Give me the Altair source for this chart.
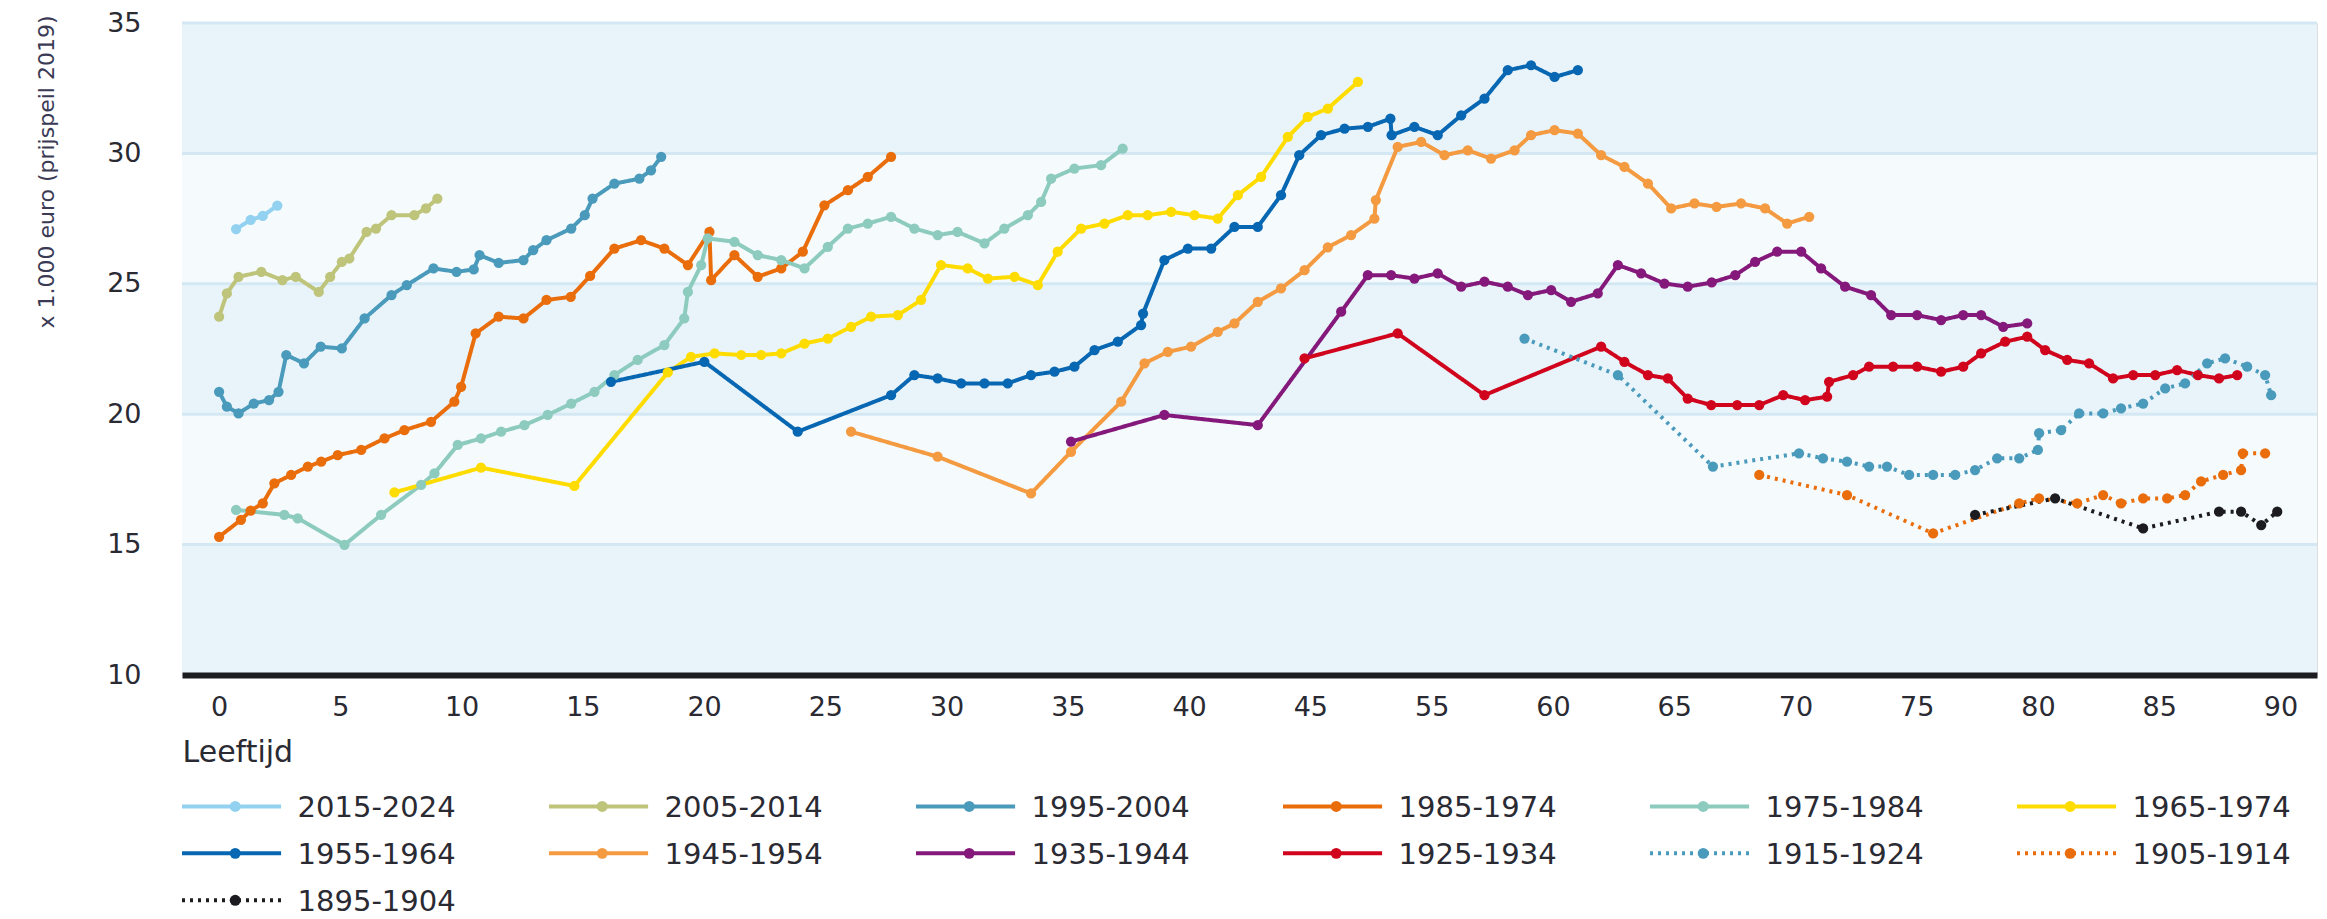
import altair as alt
import pandas as pd

# ---------------- data (x = position on the age axis, y = x 1.000 euro) ----------------
series_names = ["2015-2024", "2005-2014", "1995-2004", "1985-1974", "1975-1984", "1965-1974",
                "1955-1964", "1945-1954", "1935-1944", "1925-1934", "1915-1924", "1905-1914",
                "1895-1904"]
series_colors = ["#92d2f0", "#bec47a", "#4a9abb", "#ea6d0c", "#8ccbbe", "#ffdc00",
                 "#0767b2", "#f49a40", "#84197b", "#d0041c", "#4a9abb", "#ea6d0c", "#1c1c20"]
series_dotted = [False, False, False, False, False, False, False, False, False, False, True, True, True]

x_2015 = [0.7, 1.3, 1.8, 2.4]
y_2015 = [27.1, 27.45, 27.6, 28.0]

x_2005 = [0.0, 0.32, 0.8, 1.74, 2.61, 3.16, 4.11, 4.58, 5.06, 5.37, 6.08, 6.47, 7.11, 8.05, 8.53, 9.0]
y_2005 = [23.74, 24.63, 25.27, 25.46, 25.14, 25.27, 24.69, 25.27, 25.84, 25.97, 26.99, 27.12, 27.63, 27.63, 27.89, 28.27]

x_1995 = [0.0, 0.32, 0.8, 1.43, 2.06, 2.45, 2.77, 3.5, 4.19, 5.06, 6.0, 7.11, 7.74, 8.84, 9.79, 10.5,
          10.74, 11.53, 12.55, 12.95, 13.5, 14.52, 15.08, 15.4, 16.3, 17.33, 17.81, 18.23]
y_1995 = [20.86, 20.29, 20.03, 20.41, 20.54, 20.86, 22.27, 21.95, 22.59, 22.52, 23.67, 24.57, 24.95, 25.59, 25.46, 25.55,
          26.1, 25.8, 25.91, 26.29, 26.67, 27.12, 27.63, 28.27, 28.84, 29.03, 29.35, 29.87]

x_1985 = [0.0, 0.9, 1.3, 1.8, 2.28, 2.97, 3.66, 4.21, 4.89, 5.86, 6.82, 7.64, 8.74, 9.7, 9.98, 10.58, 11.53, 12.55,
          13.5, 14.5, 15.3, 16.3, 17.4, 18.36, 19.33, 20.22, 20.29, 21.25, 22.21, 23.18, 24.07, 24.96, 25.93, 26.75, 27.71]
y_1985 = [15.3, 15.95, 16.3, 16.58, 17.35, 17.67, 17.99, 18.18, 18.43, 18.63, 19.07, 19.39, 19.71, 20.48, 21.05, 23.1, 23.74, 23.67,
          24.38, 24.5, 25.3, 26.35, 26.67, 26.35, 25.72, 26.99, 25.14, 26.1, 25.27, 25.59, 26.23, 28.01, 28.59, 29.1, 29.87]

x_1975 = [0.7, 2.69, 3.24, 5.17, 6.68, 8.33, 8.88, 9.84, 10.8, 11.63, 12.59, 13.55, 14.52, 15.48, 16.3, 17.26, 18.36,
          19.18, 19.33, 19.88, 20.15, 21.25, 22.21, 23.18, 24.14, 25.1, 25.93, 26.75, 27.71, 28.67, 29.63, 30.45,
          31.56, 32.38, 33.35, 33.9, 34.31, 35.27, 36.37, 37.26]
y_1975 = [16.33, 16.14, 16.01, 14.99, 16.14, 17.29, 17.73, 18.82, 19.07, 19.33, 19.58, 19.97, 20.41, 20.86, 21.5, 22.08, 22.65,
          23.67, 24.69, 25.72, 26.74, 26.61, 26.1, 25.91, 25.59, 26.42, 27.12, 27.31, 27.57, 27.12, 26.87, 26.99,
          26.55, 27.12, 27.63, 28.14, 29.03, 29.42, 29.55, 30.18]

x_1965 = [7.23, 10.8, 14.65, 18.5, 19.46, 20.43, 21.53, 22.35, 23.18, 24.14, 25.1, 26.06, 26.89, 27.99, 28.95, 29.77,
          30.87, 31.7, 32.8, 33.76, 34.58, 35.55, 36.51, 37.47, 38.29, 39.26, 40.22, 41.18, 42.01, 42.97, 44.07, 44.89,
          45.72, 46.96]
y_1965 = [17.0, 17.95, 17.25, 21.6, 22.2, 22.33, 22.27, 22.27, 22.33, 22.71, 22.9, 23.35, 23.74, 23.8, 24.38, 25.72,
          25.59, 25.2, 25.27, 24.95, 26.23, 27.12, 27.31, 27.63, 27.63, 27.76, 27.63, 27.5, 28.4, 29.1, 30.63, 31.4,
          31.72, 32.74]

x_1955 = [16.16, 20.01, 23.86, 27.71, 28.67, 29.63, 30.6, 31.56, 32.52, 33.48, 34.45, 35.27, 36.1, 37.06, 38.02, 38.1,
          38.98, 39.95, 40.91, 41.87, 42.83, 43.79, 44.54, 45.44, 46.41, 47.37, 48.3, 48.35, 49.29, 50.25, 51.22, 52.18,
          53.14, 54.1, 55.07, 56.03]
y_1955 = [21.24, 22.01, 19.33, 20.73, 21.5, 21.37, 21.18, 21.18, 21.18, 21.5, 21.63, 21.82, 22.46, 22.78, 23.42, 23.86,
          25.91, 26.35, 26.35, 27.18, 27.18, 28.4, 29.93, 30.7, 30.95, 31.02, 31.33, 30.7, 31.02, 30.7, 31.46, 32.1,
          33.19, 33.38, 32.93, 33.19]

x_1945 = [26.06, 29.63, 33.48, 35.13, 37.2, 38.16, 39.12, 40.08, 41.18, 41.87, 42.83, 43.79, 44.76, 45.72, 46.68,
          47.64, 47.7, 48.6, 49.57, 50.53, 51.49, 52.45, 53.42, 54.1, 55.07, 56.03, 56.99, 57.95, 58.92, 59.88, 60.84,
          61.75, 62.76, 63.75, 64.66, 65.57]
y_1945 = [19.33, 18.37, 16.96, 18.56, 20.48, 21.95, 22.39, 22.59, 23.16, 23.48, 24.31, 24.82, 25.52, 26.4, 26.87,
          27.5, 28.21, 30.25, 30.44, 29.93, 30.12, 29.8, 30.12, 30.7, 30.89, 30.76, 29.93, 29.48, 28.84, 27.89, 28.08,
          27.95, 28.08, 27.89, 27.31, 27.57]

x_1935 = [35.13, 38.98, 42.83, 46.27, 47.37, 48.33, 49.29, 50.25, 51.22, 52.18, 53.14, 53.97, 54.93, 55.75, 56.85,
          57.68, 58.64, 59.6, 60.56, 61.55, 62.52, 63.34, 64.25, 65.24, 66.06, 67.05, 68.12, 68.95, 70.02, 71.01, 71.92,
          72.66, 73.57, 74.56]
y_1935 = [18.95, 19.97, 19.58, 23.93, 25.33, 25.33, 25.2, 25.4, 24.89, 25.08, 24.89, 24.57, 24.76, 24.31, 24.63,
          25.72, 25.4, 25.01, 24.89, 25.05, 25.33, 25.84, 26.23, 26.23, 25.59, 24.89, 24.57, 23.8, 23.8, 23.61, 23.8,
          23.8, 23.35, 23.48]

x_1925 = [44.76, 48.6, 52.18, 56.99, 57.95, 58.92, 59.74, 60.56, 61.53, 62.6, 63.51, 64.5, 65.4, 66.31, 66.39, 67.38,
          68.04, 69.03, 70.02, 71.01, 71.92, 72.66, 73.65, 74.56, 75.3, 76.21, 77.11, 78.1, 78.93, 79.84, 80.74, 81.6,
          82.47, 83.22]
y_1925 = [22.14, 23.1, 20.73, 22.59, 22.01, 21.5, 21.37, 20.6, 20.35, 20.35, 20.35, 20.73, 20.54, 20.67, 21.24, 21.5,
          21.82, 21.82, 21.82, 21.63, 21.82, 22.33, 22.78, 22.97, 22.46, 22.08, 21.95, 21.37, 21.5, 21.5, 21.69, 21.5,
          21.37, 21.5]

x_1915 = [53.83, 57.68, 61.6, 65.15, 66.14, 67.13, 68.04, 68.78, 69.69, 70.68, 71.59, 72.41, 73.32, 74.23, 75.0,
          75.05, 75.96, 76.7, 77.69, 78.43, 79.34, 80.25, 81.07, 81.98, 82.72, 83.63, 84.37, 84.62]
y_1915 = [22.9, 21.5, 17.99, 18.5, 18.31, 18.18, 17.99, 17.99, 17.67, 17.67, 17.67, 17.86, 18.31, 18.31, 18.63,
          19.27, 19.39, 20.03, 20.03, 20.22, 20.41, 20.99, 21.18, 21.95, 22.14, 21.82, 21.5, 20.73]

x_1905 = [63.51, 67.13, 70.68, 74.23, 75.05, 76.62, 77.69, 78.43, 79.34, 80.33, 81.07, 81.73, 82.64, 83.38, 83.45, 84.37]
y_1905 = [17.67, 16.9, 15.43, 16.58, 16.77, 16.58, 16.9, 16.58, 16.77, 16.77, 16.9, 17.42, 17.67, 17.86, 18.5, 18.5]

x_1895 = [72.41, 75.71, 79.34, 82.47, 83.38, 84.21, 84.87]
y_1895 = [16.14, 16.77, 15.62, 16.26, 16.26, 15.75, 16.26]

series_x = [x_2015, x_2005, x_1995, x_1985, x_1975, x_1965, x_1955, x_1945, x_1935, x_1925, x_1915, x_1905, x_1895]
series_y = [y_2015, y_2005, y_1995, y_1985, y_1975, y_1965, y_1955, y_1945, y_1935, y_1925, y_1915, y_1905, y_1895]

# axis ticks: the source axis jumps from 45 to 55
tick_pos = [0, 5, 10, 15, 20, 25, 30, 35, 40, 45, 50, 55, 60, 65, 70, 75, 80, 85]
tick_labels = ["0", "5", "10", "15", "20", "25", "30", "35", "40", "45", "55", "60", "65", "70", "75", "80", "85", "90"]
y_ticks = [10, 15, 20, 25, 30, 35]
grid_values = [15, 20, 25, 30, 35]
band_lo = [10, 15, 20, 25, 30]
band_hi = [15, 20, 25, 30, 35]
band_fill = ["#e9f4fa", "#f5fafd", "#e9f4fa", "#f5fafd", "#e9f4fa"]

# ---------------- tables ----------------
rows = []
for i, (name, xs, ys) in enumerate(zip(series_names, series_x, series_y)):
    for j, (xv, yv) in enumerate(zip(xs, ys)):
        rows.append({"serie": name, "sidx": i, "k": j, "leeftijd": xv, "waarde": yv,
                     "dotted": "ja" if series_dotted[i] else "nee"})
df = pd.DataFrame(rows)

bands = pd.DataFrame({"lo": band_lo, "hi": band_hi, "fill": band_fill})
grid = pd.DataFrame({"g": grid_values})

legend_df = pd.DataFrame({
    "serie": series_names,
    "col": [i % 6 for i in range(len(series_names))],
    "row": [i // 6 for i in range(len(series_names))],
    "kleur": series_colors,
    "dotted": ["ja" if d else "nee" for d in series_dotted],
})

FONT = "DejaVu Sans"
TXT = "#2a2a33"
W = 2135
H = 652
XDOM = [-1.53, 86.51]

label_expr = "[" + ",".join("'" + t + "'" for t in tick_labels) + "][round(datum.value/5)]"

xscale = alt.Scale(domain=XDOM, nice=False, zero=False)
yscale = alt.Scale(domain=[10, 35], nice=False, zero=False)

color_scale = alt.Scale(domain=series_names, range=series_colors)
dash_scale = alt.Scale(domain=["nee", "ja"], range=[[1, 0], [3, 5]])

bg = alt.Chart(bands).mark_rect().encode(
    x=alt.value(0), x2=alt.value({"expr": "width"}),
    y=alt.Y("lo:Q", scale=yscale, axis=alt.Axis(
        values=y_ticks, title="x 1.000 euro (prijspeil 2019)", domain=False, ticks=False, grid=False,
        labelFont=FONT, labelFontSize=27, labelColor=TXT, labelPadding=41,
        titleFont=FONT, titleFontSize=22, titleFontWeight="normal", titleColor="#3a3a55",
        titleAnchor="end", titleAlign="right", titleAngle=270, titleBaseline="middle",
        titleX=-136, titleY=-8)),
    y2="hi:Q",
    color=alt.Color("fill:N", scale=None),
)

gridlines = alt.Chart(grid).mark_rule(color="#d3e8f3", strokeWidth=3).encode(
    y=alt.Y("g:Q", scale=yscale)
)

lines = alt.Chart(df).mark_line(strokeWidth=4).encode(
    x=alt.X("leeftijd:Q", scale=xscale, axis=alt.Axis(
        values=tick_pos, labelExpr=label_expr, title="Leeftijd", grid=False, ticks=False,
        domainColor="#1c1b1f", domainWidth=6, zindex=1,
        labelFont=FONT, labelFontSize=27, labelColor=TXT, labelPadding=19,
        titleFont=FONT, titleFontSize=30, titleFontWeight="normal", titleColor=TXT,
        titleAnchor="start", titleAlign="left", titleBaseline="top", titleX=0, titleY=62)),
    y=alt.Y("waarde:Q", scale=yscale),
    color=alt.Color("serie:N", scale=color_scale, legend=None),
    strokeDash=alt.StrokeDash("dotted:N", scale=dash_scale, legend=None),
    detail="sidx:N",
    order="k:Q",
)

points = alt.Chart(df).mark_point(filled=True, opacity=1, size=105, shape="circle").encode(
    x=alt.X("leeftijd:Q", scale=xscale),
    y=alt.Y("waarde:Q", scale=yscale),
    color=alt.Color("serie:N", scale=color_scale, legend=None),
)

main = alt.layer(bg, gridlines, lines, points).properties(width=W, height=H)

# ---------------- legend drawn as its own small chart ----------------
COLW = 367.0
lx = alt.Scale(domain=[0, W / COLW], nice=False, zero=False)
ly = alt.Scale(domain=[-0.5, 2.25], nice=False, zero=False, reverse=True)

leg_base = alt.Chart(legend_df).transform_calculate(
    x0="datum.col", x1="datum.col + 0.27", xm="datum.col + 0.145", xt="datum.col + 0.315"
)
leg_rule = leg_base.mark_rule(strokeWidth=4).encode(
    x=alt.X("x0:Q", scale=lx, axis=None), x2="x1:Q",
    y=alt.Y("row:Q", scale=ly, axis=None),
    color=alt.Color("kleur:N", scale=None),
    strokeDash=alt.StrokeDash("dotted:N", scale=dash_scale, legend=None),
)
leg_pt = leg_base.mark_point(filled=True, opacity=1, size=120, shape="circle").encode(
    x=alt.X("xm:Q", scale=lx, axis=None),
    y=alt.Y("row:Q", scale=ly, axis=None),
    color=alt.Color("kleur:N", scale=None),
)
leg_txt = leg_base.mark_text(align="left", baseline="middle", font=FONT, fontSize=29, color=TXT, dy=2).encode(
    x=alt.X("xt:Q", scale=lx, axis=None),
    y=alt.Y("row:Q", scale=ly, axis=None),
    text="serie:N",
)
legend = alt.layer(leg_rule, leg_pt, leg_txt).properties(
    width=W, height=int(47 * 2.75), view=alt.ViewBackground(strokeOpacity=0, strokeWidth=0)
)

chart = alt.vconcat(main, legend, spacing=15).properties(
    padding={"left": 26, "top": 0, "right": 0, "bottom": 0}
).configure_view(strokeWidth=0, strokeOpacity=0).configure(background="white")

chart.save("out.html", embed_options={"renderer": "svg", "actions": False})
